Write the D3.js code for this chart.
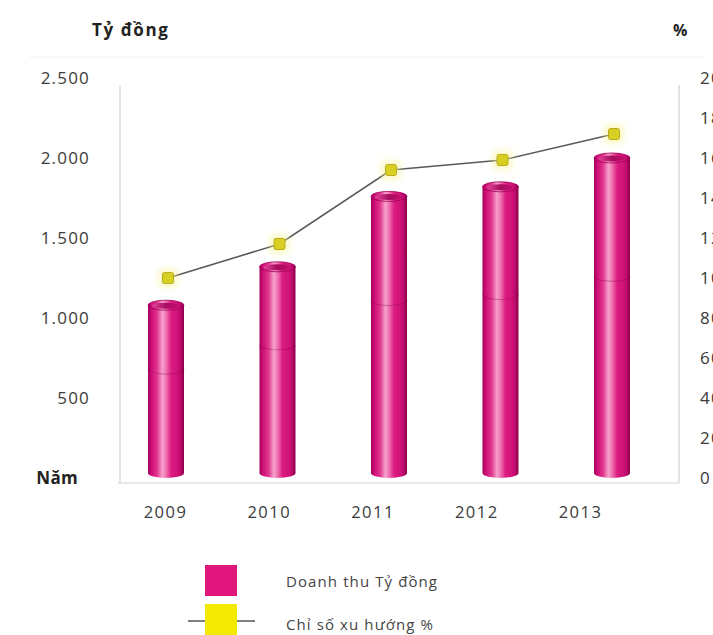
<!DOCTYPE html>
<html>
<head>
<meta charset="utf-8">
<script src="https://cdn.jsdelivr.net/npm/d3@7"></script>
<style>
  html, body { margin: 0; padding: 0; background: #ffffff; }
  svg { display: block; }
  text { font-family: "Open Sans", "Noto Sans", sans-serif; }
</style>
</head>
<body>
<svg id="chart" width="713" height="635"></svg>
<script>
// Revenue (billion VND) and trend index (%) by year
const years = ["2009", "2010", "2011", "2012", "2013"];
const revenue = [1080, 1320, 1760, 1820, 2000];
const trendIndex = [100, 117, 154, 159, 172];
const leftTicks = [0, 500, 1000, 1500, 2000, 2500];
const leftTickLabels = ["Năm", "500", "1.000", "1.500", "2.000", "2.500"];
const rightTicks = [0, 20, 40, 60, 80, 100, 120, 140, 160, 180, 200];
const legendLabels = ["Doanh thu Tỷ đồng", "Chỉ số xu hướng %"];

const svg = d3.select("#chart");
const defs = svg.append("defs");

// scales
const yLeft = d3.scaleLinear().domain([0, 2500]).range([478, 78]);
const yRight = d3.scaleLinear().domain([0, 200]).range([478, 78]);
const xBar = d3.scalePoint().domain(years).range([166, 612]);
const xLabel = d3.scalePoint().domain(years).range([165, 580]);
const barW = 36;

// cylinder shading
const body = defs.append("linearGradient").attr("id", "cyl").attr("x1", 0).attr("x2", 1).attr("y1", 0).attr("y2", 0);
[[0, "#a3005a"], [0.1, "#cf0f78"], [0.26, "#e23a8f"], [0.4, "#f6a2cd"], [0.5, "#ef74b0"], [0.64, "#dc1d82"], [0.86, "#cc0f75"], [1, "#8e004c"]]
  .forEach(([o, c]) => body.append("stop").attr("offset", o).attr("stop-color", c));
const inner = defs.append("linearGradient").attr("id", "cylIn").attr("x1", 0).attr("x2", 1).attr("y1", 0).attr("y2", 0);
[[0, "#e0489a"], [0.5, "#a70c5e"], [1, "#c81373"]]
  .forEach(([o, c]) => inner.append("stop").attr("offset", o).attr("stop-color", c));

const glow = defs.append("filter").attr("id", "glow").attr("x", "-100%").attr("y", "-100%").attr("width", "300%").attr("height", "300%");
glow.append("feGaussianBlur").attr("stdDeviation", 3);
const soft = defs.append("filter").attr("id", "soft").attr("x", "-20%").attr("y", "-20%").attr("width", "140%").attr("height", "140%");
soft.append("feGaussianBlur").attr("stdDeviation", 0.6);

// headers
svg.append("text").attr("x", 92).attr("y", 36).attr("font-size", 17).attr("font-weight", 700)
  .attr("letter-spacing", 1.6).attr("fill", "#222").text("Tỷ đồng");
svg.append("text").attr("x", 673).attr("y", 36).attr("font-size", 16).attr("font-weight", 700)
  .attr("fill", "#222").text("%");
svg.append("line").attr("x1", 30).attr("x2", 705).attr("y1", 57).attr("y2", 57)
  .attr("stroke", "#f0f0f0").attr("stroke-width", 1);

// frame lines
const frame = svg.append("g").attr("stroke", "#d2d2d2").attr("stroke-width", 1.2).attr("fill", "none");
frame.append("line").attr("x1", 120).attr("x2", 120).attr("y1", 85).attr("y2", 483);
frame.append("line").attr("x1", 679).attr("x2", 679).attr("y1", 85).attr("y2", 483);
frame.append("line").attr("x1", 118).attr("x2", 679).attr("y1", 483).attr("y2", 483);

// left axis labels
const leftAxis = d3.axisLeft(yLeft).tickValues(leftTicks).tickSize(0).tickPadding(0)
  .tickFormat((d, i) => leftTickLabels[i]);
const gL = svg.append("g").attr("transform", "translate(90,0)").call(leftAxis);
gL.select(".domain").remove();
gL.selectAll("text").attr("font-size", 17).attr("letter-spacing", 1.2).attr("fill", "#3a3a3a")
  .attr("font-family", "'Open Sans', sans-serif");
gL.selectAll("text").filter(d => d === 0).attr("font-weight", 700).attr("fill", "#222")
  .attr("letter-spacing", 0.3).attr("x", -12);

// right axis labels (run past the right edge)
const rightAxis = d3.axisRight(yRight).tickValues(rightTicks).tickSize(0).tickPadding(0);
const gR = svg.append("g").attr("transform", "translate(700,0)").call(rightAxis);
gR.select(".domain").remove();
gR.selectAll("text").attr("font-size", 17).attr("letter-spacing", 1.2).attr("fill", "#3a3a3a")
  .attr("font-family", "'Open Sans', sans-serif");

// x labels
const xAxis = d3.axisBottom(xLabel).tickSize(0).tickPadding(0);
const gX = svg.append("g").attr("transform", "translate(0,506)").call(xAxis);
gX.select(".domain").remove();
gX.selectAll("text").attr("font-size", 16.5).attr("letter-spacing", 1.5).attr("fill", "#3a3a3a")
  .attr("font-family", "'Open Sans', sans-serif");

// cylinders
const ryTop = 5;
const bars = svg.append("g").selectAll("g").data(years).join("g")
  .attr("filter", "url(#soft)");
bars.each(function (yr, i) {
  const g = d3.select(this);
  const cx = xBar(yr);
  const top = yLeft(revenue[i]);
  const bot = yLeft(0);
  const x0 = cx - barW / 2;
  // body with rounded bottom
  g.append("path")
    .attr("d", `M${x0},${top} L${x0},${bot - ryTop} A${barW / 2},${ryTop} 0 0 0 ${x0 + barW},${bot - ryTop} L${x0 + barW},${top} Z`)
    .attr("fill", "url(#cyl)");
  // faint seam
  const seam = top + (bot - top) * 0.37;
  g.append("path")
    .attr("d", `M${x0},${seam} A${barW / 2},${ryTop} 0 0 0 ${x0 + barW},${seam}`)
    .attr("fill", "none").attr("stroke", "#8a0043").attr("stroke-opacity", 0.3).attr("stroke-width", 1.2);
  // top rim and opening
  g.append("ellipse").attr("cx", cx).attr("cy", top).attr("rx", barW / 2).attr("ry", ryTop)
    .attr("fill", "url(#cyl)").attr("stroke", "#a2005a").attr("stroke-width", 0.8);
  g.append("ellipse").attr("cx", cx).attr("cy", top + 0.5).attr("rx", barW / 2 - 4).attr("ry", ryTop - 2)
    .attr("fill", "url(#cylIn)");
});

// trend line
const line = d3.line().x((d, i) => xBar(years[i]) + 2).y(d => yRight(d));
svg.append("path").datum(trendIndex).attr("d", line)
  .attr("fill", "none").attr("stroke", "#5a5a5a").attr("stroke-width", 1.6);

const marks = svg.append("g").selectAll("g").data(trendIndex).join("g")
  .attr("transform", (d, i) => `translate(${xBar(years[i]) + 2},${yRight(d)})`);
marks.append("rect").attr("x", -9).attr("y", -9).attr("width", 18).attr("height", 18)
  .attr("fill", "#f6f390").attr("opacity", 0.6).attr("filter", "url(#glow)");
marks.append("rect").attr("x", -5.5).attr("y", -5.5).attr("width", 11).attr("height", 11).attr("rx", 2)
  .attr("fill", "#d8cf22").attr("stroke", "#aaa012").attr("stroke-width", 0.8).attr("filter", "url(#soft)");

// legend
const legend = svg.append("g");
legend.append("rect").attr("x", 205).attr("y", 565).attr("width", 32).attr("height", 31)
  .attr("fill", "#e0127c").attr("filter", "url(#soft)");
legend.append("line").attr("x1", 188).attr("x2", 255).attr("y1", 621).attr("y2", 621)
  .attr("stroke", "#555").attr("stroke-width", 1.6);
legend.append("rect").attr("x", 205).attr("y", 604).attr("width", 32).attr("height", 34)
  .attr("fill", "#f2ea00").attr("filter", "url(#soft)");
legend.selectAll("text.lg").data(legendLabels).join("text").attr("class", "lg")
  .attr("x", 286).attr("y", (d, i) => 587 + i * 43)
  .attr("font-size", 15).attr("letter-spacing", 1.1).attr("fill", "#444").text(d => d);
</script>
</body>
</html>
